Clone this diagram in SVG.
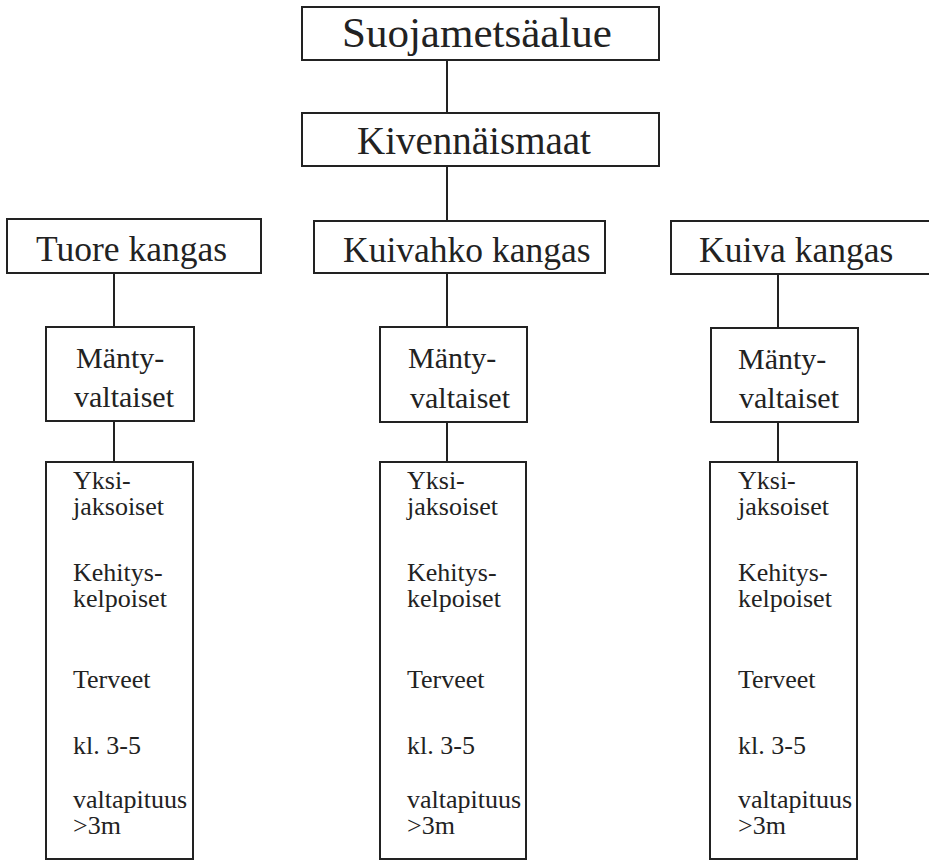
<svg xmlns="http://www.w3.org/2000/svg" width="929" height="861" viewBox="0 0 929 861" font-family="'Liberation Serif', 'Times New Roman', Times, serif">
<style>
.box{fill:#fff;stroke:#222;stroke-width:2}
.ln{stroke:#222;stroke-width:2;fill:none}
text{fill:#222}
.t1{font-size:43px}
.t2{font-size:39px}
.t3{font-size:35.5px}
.t4{font-size:30px}
.t5{font-size:26px}
</style>
<rect width="929" height="861" fill="#fff"/>
<g id="connectors">
<line class="ln" x1="447" y1="60" x2="447" y2="113"/>
<line class="ln" x1="447" y1="166" x2="447" y2="221"/>
<line class="ln" x1="447" y1="273" x2="447" y2="327"/>
<line class="ln" x1="447" y1="422" x2="447" y2="462"/>
<line class="ln" x1="114" y1="273" x2="114" y2="327"/>
<line class="ln" x1="114" y1="421" x2="114" y2="462"/>
<line class="ln" x1="778" y1="274" x2="778" y2="328"/>
<line class="ln" x1="778" y1="422" x2="778" y2="462"/>
</g>
<g id="suojametsaalue">
<rect class="box" x="302" y="7" width="357" height="53"/>
<text class="t1" x="342" y="47">Suojametsäalue</text>
</g>
<g id="kivennaismaat">
<rect class="box" x="302" y="113" width="357" height="53"/>
<text class="t2" x="357" y="154">Kivennäismaat</text>
</g>
<g id="tuore">
<rect class="box" x="7" y="219" width="254" height="54"/>
<text class="t3" x="36" y="261">Tuore kangas</text>
</g>
<g id="kuivahko">
<rect class="box" x="314" y="221" width="291" height="52"/>
<text class="t3" x="343" y="262">Kuivahko kangas</text>
</g>
<g id="kuiva">
<rect class="box" x="671" y="221" width="270" height="53"/>
<text class="t3" x="699" y="262">Kuiva kangas</text>
</g>
<g id="manty1">
<rect class="box" x="46" y="327" width="148" height="94"/>
<text class="t4" x="76" y="368">Mänty-</text>
<text class="t4" x="74" y="407">valtaiset</text>
</g>
<g id="manty2">
<rect class="box" x="380" y="327" width="147" height="95"/>
<text class="t4" x="408" y="368">Mänty-</text>
<text class="t4" x="410" y="408">valtaiset</text>
</g>
<g id="manty3">
<rect class="box" x="711" y="328" width="147" height="94"/>
<text class="t4" x="738" y="369">Mänty-</text>
<text class="t4" x="739" y="408">valtaiset</text>
</g>
<g id="criteria1">
<rect class="box" x="46" y="462" width="147" height="397"/>
<text class="t5" x="73" y="489">Yksi-</text>
<text class="t5" x="73" y="515">jaksoiset</text>
<text class="t5" x="73" y="581">Kehitys-</text>
<text class="t5" x="73" y="607">kelpoiset</text>
<text class="t5" x="73" y="688">Terveet</text>
<text class="t5" x="73" y="754">kl. 3-5</text>
<text class="t5" x="73" y="808">valtapituus</text>
<text class="t5" x="73" y="834">&gt;3m</text>
</g>
<g id="criteria2">
<rect class="box" x="380" y="462" width="146" height="397"/>
<text class="t5" x="407" y="489">Yksi-</text>
<text class="t5" x="407" y="515">jaksoiset</text>
<text class="t5" x="407" y="581">Kehitys-</text>
<text class="t5" x="407" y="607">kelpoiset</text>
<text class="t5" x="407" y="688">Terveet</text>
<text class="t5" x="407" y="754">kl. 3-5</text>
<text class="t5" x="407" y="808">valtapituus</text>
<text class="t5" x="407" y="834">&gt;3m</text>
</g>
<g id="criteria3">
<rect class="box" x="710" y="462" width="147" height="397"/>
<text class="t5" x="738" y="489">Yksi-</text>
<text class="t5" x="738" y="515">jaksoiset</text>
<text class="t5" x="738" y="581">Kehitys-</text>
<text class="t5" x="738" y="607">kelpoiset</text>
<text class="t5" x="738" y="688">Terveet</text>
<text class="t5" x="738" y="754">kl. 3-5</text>
<text class="t5" x="738" y="808">valtapituus</text>
<text class="t5" x="738" y="834">&gt;3m</text>
</g>
</svg>
